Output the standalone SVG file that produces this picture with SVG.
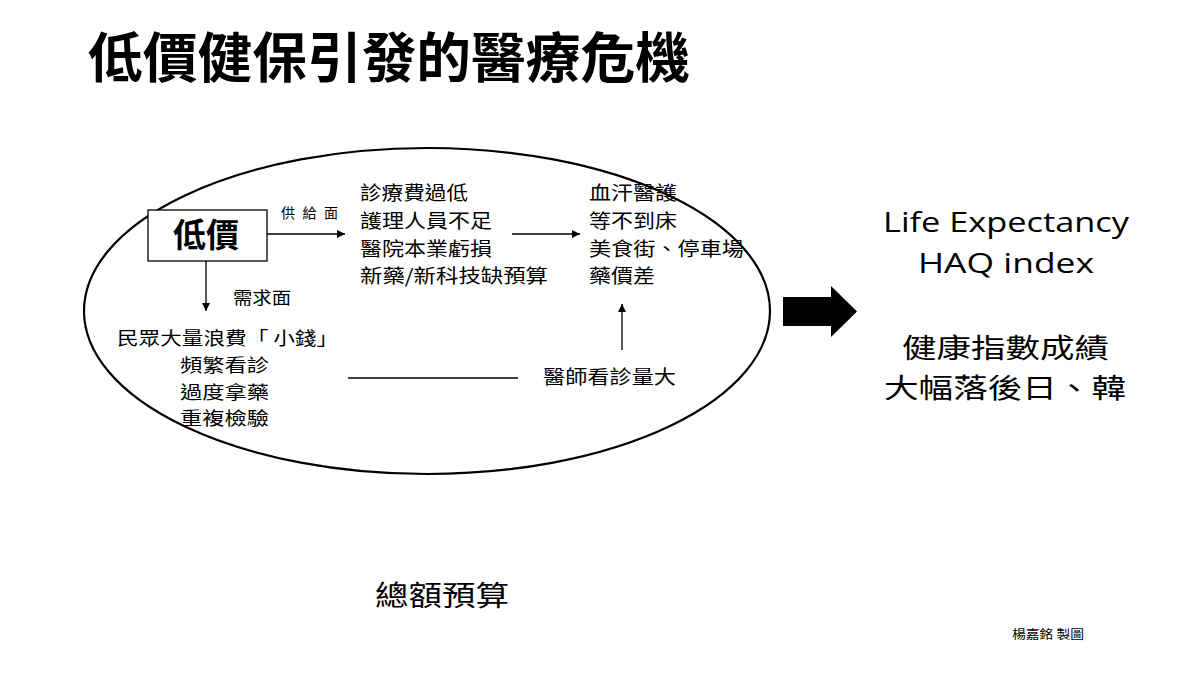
<svg xmlns="http://www.w3.org/2000/svg" width="1200" height="675" viewBox="0 0 1200 675">
<style>
.cjk{font-family:"Noto Sans CJK TC","Noto Sans CJK SC",sans-serif;fill:#000}
.t19{font-size:19px}
.t18{font-size:18px}
.en{font-family:"Open Sans","Noto Sans",sans-serif;fill:#000}
.ln{stroke:#000;stroke-width:1.3;fill:none}
</style>
<defs>
<marker id="ah" viewBox="0 0 10 10" refX="10" refY="5" markerWidth="8" markerHeight="8" markerUnits="userSpaceOnUse" orient="auto">
<path d="M0,0 L10,5 L0,10 z" fill="#000"/>
</marker>
</defs>
<rect width="1200" height="675" fill="#fff"/>
<text id="title" class="cjk" x="88" y="78" font-size="54" font-weight="bold" textLength="602" lengthAdjust="spacingAndGlyphs">低價健保引發的醫療危機</text>
<ellipse id="scope" cx="427" cy="311" rx="343" ry="163" fill="none" stroke="#000" stroke-width="2.2"/>
<g id="connectors">
<line class="ln" x1="267" y1="234" x2="345" y2="234" marker-end="url(#ah)"/>
<line class="ln" x1="206" y1="261" x2="206" y2="311" marker-end="url(#ah)"/>
<line class="ln" x1="512" y1="234" x2="580" y2="234" marker-end="url(#ah)"/>
<line class="ln" x1="622" y1="350" x2="622" y2="304" marker-end="url(#ah)"/>
<line class="ln" x1="348" y1="378" x2="518" y2="378"/>
<path d="M783,297 H831 V286 L857,311.5 L831,337 V326 H783 Z" fill="#000"/>
</g>
<g id="node-lowprice">
<rect x="148" y="210" width="119" height="51" fill="#fff" stroke="#000" stroke-width="1.3"/>
<text class="cjk" x="173" y="247" font-size="33" font-weight="bold" textLength="66" lengthAdjust="spacingAndGlyphs">低價</text>
</g>
<g id="label-supply"><text class="cjk" x="281" y="218" font-size="14" textLength="57" lengthAdjust="spacing">供給面</text></g>
<g id="label-demand"><text class="cjk" x="233" y="304" font-size="17" textLength="58" lengthAdjust="spacingAndGlyphs">需求面</text></g>
<g id="node-supply" class="cjk t19">
<text x="360" y="200" textLength="108" lengthAdjust="spacingAndGlyphs">診療費過低</text>
<text x="360" y="228" textLength="132" lengthAdjust="spacingAndGlyphs">護理人員不足</text>
<text x="360" y="256" textLength="132" lengthAdjust="spacingAndGlyphs">醫院本業虧損</text>
<text x="360" y="283" textLength="188" lengthAdjust="spacingAndGlyphs">新藥/新科技缺預算</text>
</g>
<g id="node-effects" class="cjk t19">
<text x="589" y="200" textLength="88" lengthAdjust="spacingAndGlyphs">血汗醫護</text>
<text x="589" y="228" textLength="88" lengthAdjust="spacingAndGlyphs">等不到床</text>
<text x="589" y="256" textLength="155" lengthAdjust="spacingAndGlyphs">美食街、停車場</text>
<text x="589" y="283" textLength="66" lengthAdjust="spacingAndGlyphs">藥價差</text>
</g>
<g id="node-demand" class="cjk t18">
<text x="117" y="345" textLength="221" lengthAdjust="spacingAndGlyphs">民眾大量浪費「 小錢」</text>
<text x="180" y="372" textLength="89" lengthAdjust="spacingAndGlyphs">頻繁看診</text>
<text x="180" y="399" textLength="89" lengthAdjust="spacingAndGlyphs">過度拿藥</text>
<text x="180" y="425" textLength="89" lengthAdjust="spacingAndGlyphs">重複檢驗</text>
</g>
<g id="node-doctor"><text class="cjk t19" x="543" y="384" textLength="133" lengthAdjust="spacingAndGlyphs">醫師看診量大</text></g>
<g id="node-outcome">
<text class="en" x="883" y="232" font-size="28" textLength="246" lengthAdjust="spacingAndGlyphs">Life Expectancy</text>
<text class="en" x="918" y="273" font-size="28" textLength="176" lengthAdjust="spacingAndGlyphs">HAQ index</text>
<text class="cjk" x="902" y="358" font-size="27.5" textLength="207" lengthAdjust="spacingAndGlyphs">健康指數成績</text>
<text class="cjk" x="884" y="398" font-size="27.5" textLength="242" lengthAdjust="spacingAndGlyphs">大幅落後日、韓</text>
</g>
<g id="node-budget"><text class="cjk" x="375" y="606" font-size="28" textLength="134" lengthAdjust="spacingAndGlyphs">總額預算</text></g>
<g id="credit"><text class="cjk" x="1012" y="639" font-size="12" textLength="72" lengthAdjust="spacingAndGlyphs">楊嘉銘 製圖</text></g>
</svg>
